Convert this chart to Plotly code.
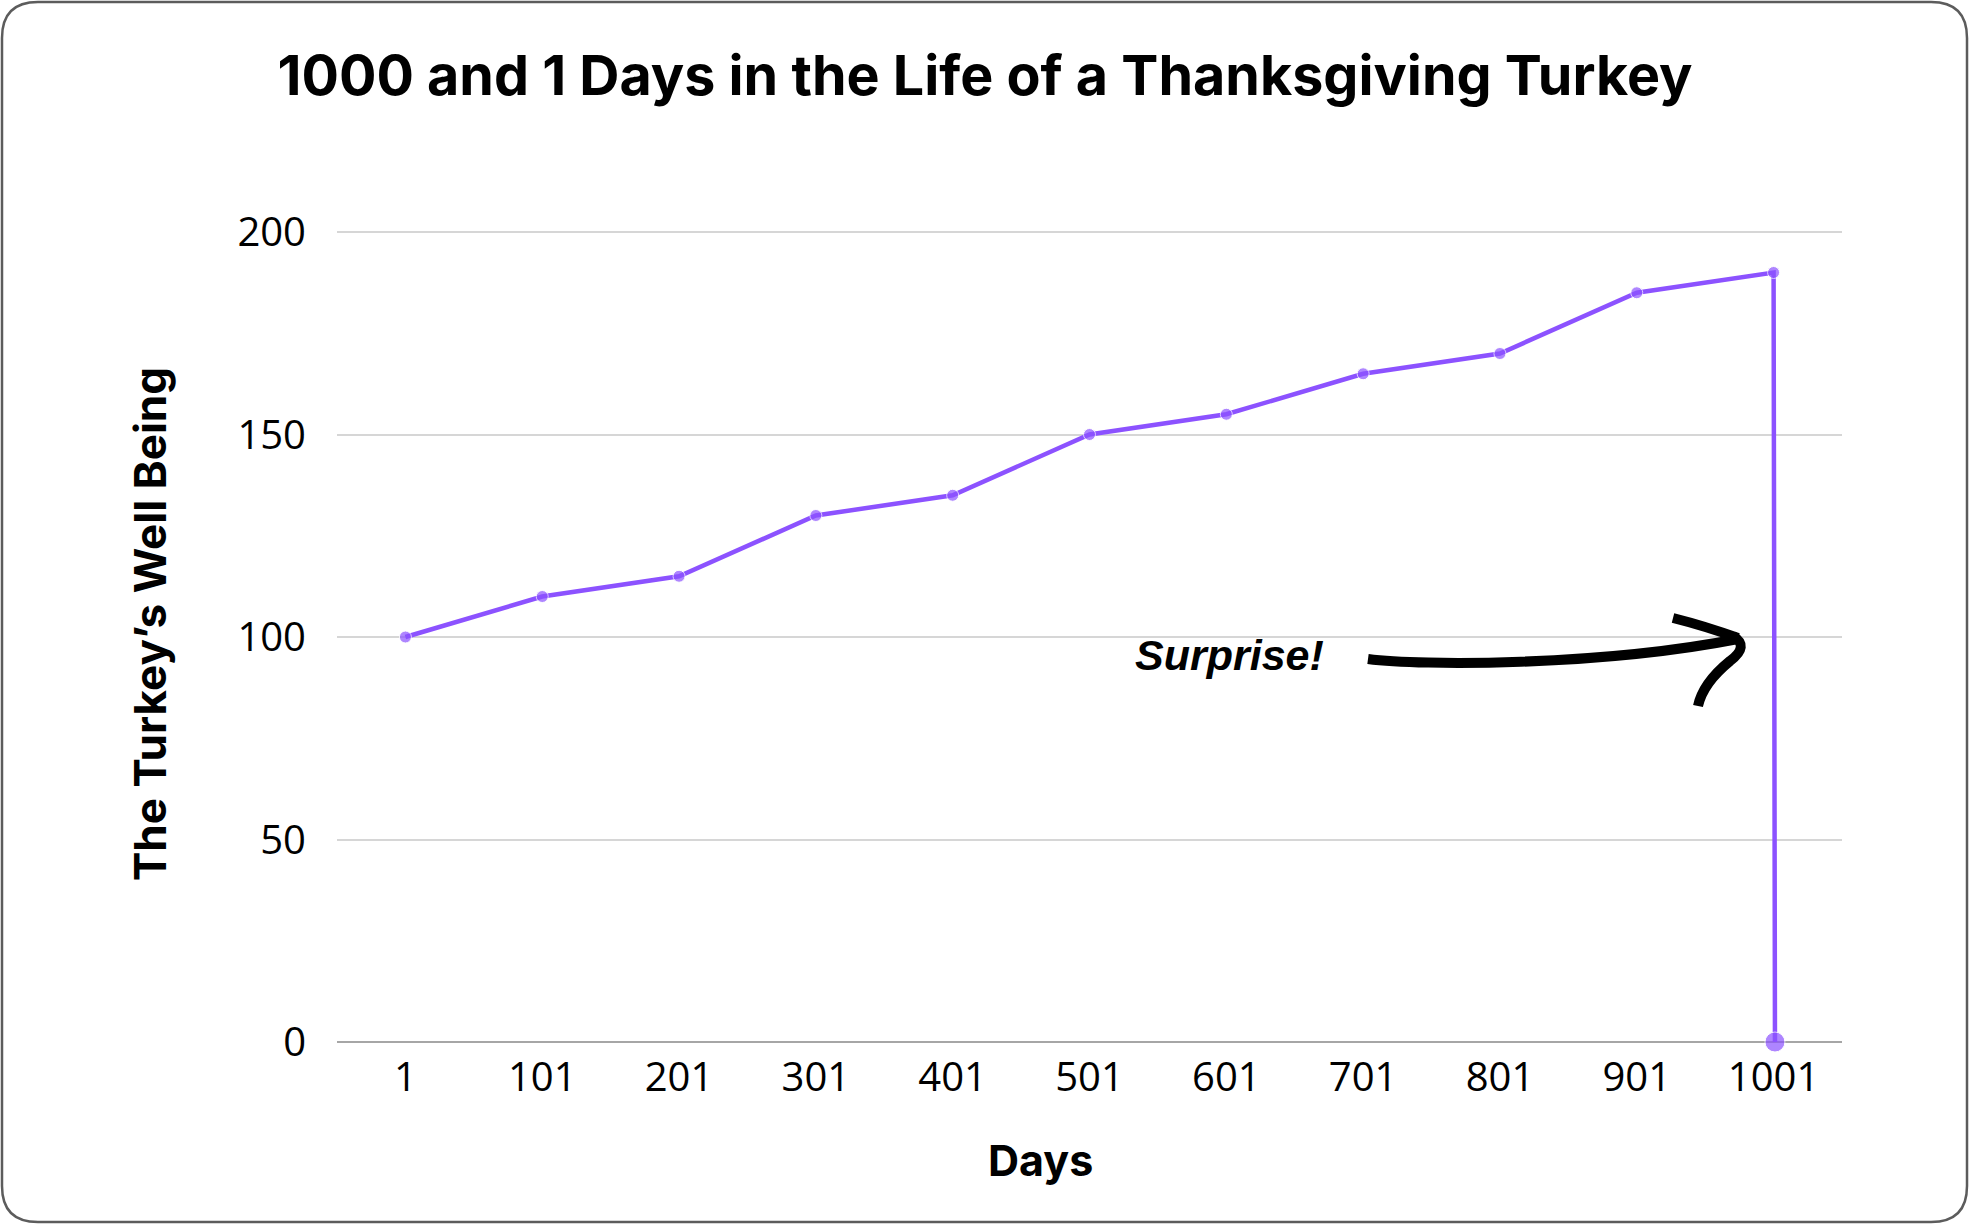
import plotly.graph_objects as go

# ---- data ----
days = [1, 101, 201, 301, 401, 501, 601, 701, 801, 901, 1001, 1002]
well_being = [100, 110, 115, 130, 135, 150, 155, 165, 170, 185, 190, 0]
tick_vals = [1, 101, 201, 301, 401, 501, 601, 701, 801, 901, 1001]
tick_text = ["1", "101", "201", "301", "401", "501", "601", "701", "801", "901", "1001"]
y_ticks = [0, 50, 100, 150, 200]

title_text = "1000 and 1 Days in the Life of a Thanksgiving Turkey"
x_title = "Days"
y_title = "The Turkey\u2019s Well Being"
note_text = "Surprise!"

PURPLE = "#8C52FF"
W, H = 1970, 1225
L, R, T, B = 337, 128, 231, 183
PW, PH = W - L - R, H - T - B


def px(x):
    return (x - L) / PW


def py(y):
    return (H - B - y) / PH


def path(cmds):
    out = []
    for c in cmds:
        op, *pts = c
        coords = []
        for i in range(0, len(pts), 2):
            coords.append(f"{px(pts[i]):.5f},{py(pts[i+1]):.5f}")
        out.append(op + " " + " ".join(coords))
    return " ".join(out)


marker_sizes = [12] * (len(days) - 1) + [20]

fig = go.Figure()
fig.add_trace(go.Scatter(
    x=days, y=well_being, mode="lines+markers",
    line=dict(color=PURPLE, width=4.5),
    marker=dict(color=PURPLE, size=marker_sizes),
    cliponaxis=False, showlegend=False, hoverinfo="x+y",
))

# rounded frame around the whole figure
r = 36
x0, y0, x1, y1 = 2, 2, W - 3, H - 3
frame = path([
    ("M", x0 + r, y0), ("L", x1 - r, y0), ("Q", x1, y0, x1, y0 + r),
    ("L", x1, y1 - r), ("Q", x1, y1, x1 - r, y1),
    ("L", x0 + r, y1), ("Q", x0, y1, x0, y1 - r),
    ("L", x0, y0 + r), ("Q", x0, y0, x0 + r, y0),
]) + " Z"

arrow_shaft = path([("M", 1368, 659), ("C", 1420, 666, 1600, 666, 1738, 639)])
arrow_up = path([("M", 1673, 618), ("Q", 1705, 626, 1738, 638)])
arrow_hook = path([("M", 1733, 636), ("Q", 1750, 646, 1730, 661), ("Q", 1703, 683, 1698, 706)])

shapes = [
    dict(type="path", xref="paper", yref="paper", path=frame,
         line=dict(color="#5c5c5c", width=2.5), layer="below"),
]
for p in (arrow_shaft, arrow_up, arrow_hook):
    shapes.append(dict(type="path", xref="paper", yref="paper", path=p,
                       line=dict(color="black", width=10)))

fig.update_layout(
    width=W, height=H,
    margin=dict(l=L, r=R, t=T, b=B, pad=0),
    paper_bgcolor="white", plot_bgcolor="white",
    title=dict(text=title_text, x=0.5, xanchor="center", xref="container",
               y=1 - 76 / H, yanchor="middle", yref="container",
               font=dict(family="Inter", size=55.6, color="black", weight="bold")),
    xaxis=dict(range=[-49, 1051], tickmode="array", tickvals=tick_vals, ticktext=tick_text,
               showgrid=False, zeroline=False, showline=False, ticks="",
               tickfont=dict(family="Open Sans", size=40, color="black"),
               ticklabelstandoff=8),
    yaxis=dict(range=[0, 200.25], tickmode="array", tickvals=y_ticks,
               showgrid=True, gridcolor="#d6d6d6", gridwidth=1.5,
               zeroline=True, zerolinecolor="#a6a6a6", zerolinewidth=2,
               showline=False, ticks="",
               tickfont=dict(family="Open Sans", size=40, color="black"),
               ticklabelstandoff=30),
    shapes=shapes,
    annotations=[
        dict(text=note_text, xref="paper", yref="paper",
             x=px(1229), y=py(655), xanchor="center", yanchor="middle",
             showarrow=False,
             font=dict(family="Liberation Sans", size=43, color="black",
                       weight="bold", style="italic")),
        dict(text=x_title, xref="paper", yref="paper",
             x=px(1040), y=py(1160), xanchor="center", yanchor="middle",
             showarrow=False,
             font=dict(family="Inter", size=43, color="black", weight="bold")),
        dict(text=y_title, xref="paper", yref="paper", textangle=-90,
             x=px(150), y=py(624), xanchor="center", yanchor="middle",
             showarrow=False,
             font=dict(family="Inter", size=44, color="black", weight="bold")),
    ],
)

fig.write_html("out.html", config={"displayModeBar": False},
               post_script="document.body.style.margin='0px';")
